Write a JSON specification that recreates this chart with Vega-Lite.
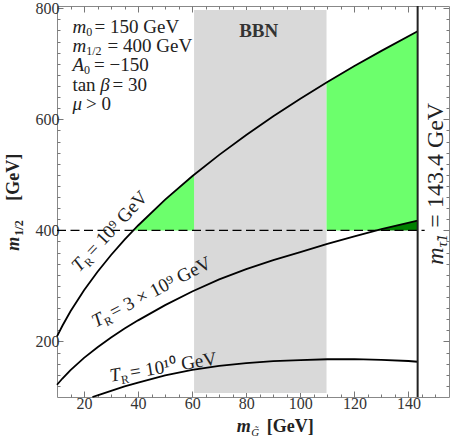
{
  "$schema": "https://vega.github.io/schema/vega-lite/v6.json",
  "width": 392,
  "height": 391,
  "autosize": {"type": "none"},
  "padding": {"left": 57, "top": 6, "right": 1, "bottom": 46},
  "background": "white",
  "config": {
    "view": {"stroke": "#888", "strokeWidth": 1},
    "text": {"font": "Liberation Serif", "color": "#222", "align": "left", "baseline": "alphabetic"}
  },
  "encoding": {
    "x": {"field": "x", "type": "quantitative", "scale": {"domain": [10, 155], "nice": false, "zero": false}, "axis": null},
    "y": {"field": "y", "type": "quantitative", "scale": {"domain": [100, 804], "nice": false, "zero": false}, "axis": null}
  },
  "resolve": {"axis": {"x": "independent", "y": "independent"}},
  "layer": [
    {
      "data": {"values": [{"x": 60.7, "x2": 109.7, "y": 107, "y2": 797}]},
      "mark": {"type": "rect", "color": "#d9d9d9"},
      "encoding": {
        "x": {"field": "x", "type": "quantitative", "scale": {"domain": [10, 155], "nice": false, "zero": false},
          "axis": {"orient": "bottom", "values": [15,20,25,30,35,40,45,50,55,60,65,70,75,80,85,90,95,100,105,110,115,120,125,130,135,140,145,150],
            "labelExpr": "datum.value % 20 === 0 ? datum.label : ''",
            "tickSize": {"condition": {"test": "datum.value % 20 === 0", "value": -6}, "value": -3},
            "tickColor": "#777", "domain": false, "grid": false, "title": null,
            "labelFont": "Liberation Serif", "labelFontSize": 16, "labelColor": "#333", "labelPadding": 4, "labelOverlap": false, "labelFlush": false}},
        "x2": {"field": "x2"},
        "y": {"field": "y", "type": "quantitative", "scale": {"domain": [100, 804], "nice": false, "zero": false},
          "axis": {"orient": "left", "values": [120,140,160,180,200,220,240,260,280,300,320,340,360,380,400,420,440,460,480,500,520,540,560,580,600,620,640,660,680,700,720,740,760,780,800],
            "labelExpr": "datum.value % 200 === 0 ? datum.label : ''",
            "tickSize": {"condition": {"test": "datum.value % 200 === 0", "value": -6}, "value": -3},
            "tickColor": "#777", "domain": false, "grid": false, "title": null,
            "labelFont": "Liberation Serif", "labelFontSize": 16, "labelColor": "#333", "labelPadding": 4, "labelOverlap": false, "labelFlush": false}},
        "y2": {"field": "y2"}
      }
    },
    {
      "data": {"values": [
        {"part": "a", "x": 38.1, "y": 400, "y2": 400},
        {"part": "a", "x": 40, "y": 408.8, "y2": 400},
        {"part": "a", "x": 45, "y": 432.8, "y2": 400},
        {"part": "a", "x": 50, "y": 455.5, "y2": 400},
        {"part": "a", "x": 55, "y": 477, "y2": 400},
        {"part": "a", "x": 60.7, "y": 500.3, "y2": 400},
        {"part": "b", "x": 109.7, "y": 666.2, "y2": 400},
        {"part": "b", "x": 120, "y": 695.8, "y2": 400},
        {"part": "b", "x": 128.2, "y": 718.4, "y2": 400},
        {"part": "b", "x": 130, "y": 723.2, "y2": 402.1},
        {"part": "b", "x": 140, "y": 749.7, "y2": 413.6},
        {"part": "b", "x": 143.4, "y": 758.5, "y2": 417.5}
      ]},
      "mark": {"type": "area", "color": "#6cff6c", "opacity": 1},
      "encoding": {"y2": {"field": "y2"}, "detail": {"field": "part"}}
    },
    {
      "data": {"values": [
        {"x": 128.2, "y": 400, "y2": 400},
        {"x": 130, "y": 402.1, "y2": 400},
        {"x": 140, "y": 413.6, "y2": 400},
        {"x": 143.4, "y": 417.5, "y2": 400}
      ]},
      "mark": {"type": "area", "color": "#008000", "opacity": 1},
      "encoding": {"y2": {"field": "y2"}}
    },
    {
      "data": {"values": [{"x": 10, "x2": 146, "y": 400}]},
      "mark": {"type": "rule", "color": "#000", "strokeWidth": 1.4, "strokeDash": [9, 4.5]},
      "encoding": {"x2": {"field": "x2"}}
    },
    {
      "data": {"values": [
        {"T": "1e9", "x": 10, "y": 209}, {"T": "1e9", "x": 12, "y": 228.3}, {"T": "1e9", "x": 15, "y": 254.3},
        {"T": "1e9", "x": 20, "y": 292.3}, {"T": "1e9", "x": 25, "y": 325.6}, {"T": "1e9", "x": 30, "y": 355.7},
        {"T": "1e9", "x": 35, "y": 383.2}, {"T": "1e9", "x": 40, "y": 408.8}, {"T": "1e9", "x": 50, "y": 455.5},
        {"T": "1e9", "x": 60, "y": 497.5}, {"T": "1e9", "x": 70, "y": 536}, {"T": "1e9", "x": 80, "y": 571.8},
        {"T": "1e9", "x": 90, "y": 605.4}, {"T": "1e9", "x": 100, "y": 637}, {"T": "1e9", "x": 110, "y": 667.1},
        {"T": "1e9", "x": 120, "y": 695.8}, {"T": "1e9", "x": 130, "y": 723.2}, {"T": "1e9", "x": 143.4, "y": 758.5},
        {"T": "3e9", "x": 10, "y": 122}, {"T": "3e9", "x": 12, "y": 133.3}, {"T": "3e9", "x": 15, "y": 148.5},
        {"T": "3e9", "x": 20, "y": 170.5}, {"T": "3e9", "x": 25, "y": 189.7}, {"T": "3e9", "x": 30, "y": 207.2},
        {"T": "3e9", "x": 35, "y": 223.2}, {"T": "3e9", "x": 40, "y": 238}, {"T": "3e9", "x": 50, "y": 265.4},
        {"T": "3e9", "x": 60, "y": 289.9}, {"T": "3e9", "x": 70, "y": 311.7}, {"T": "3e9", "x": 80, "y": 330.3},
        {"T": "3e9", "x": 90, "y": 346.4}, {"T": "3e9", "x": 100, "y": 360.9}, {"T": "3e9", "x": 110, "y": 375.6},
        {"T": "3e9", "x": 120, "y": 389.3}, {"T": "3e9", "x": 130, "y": 402.1}, {"T": "3e9", "x": 143.4, "y": 417.5},
        {"T": "1e10", "x": 23.1, "y": 100}, {"T": "1e10", "x": 25, "y": 103}, {"T": "1e10", "x": 30, "y": 111},
        {"T": "1e10", "x": 35, "y": 119}, {"T": "1e10", "x": 40, "y": 126}, {"T": "1e10", "x": 50, "y": 139},
        {"T": "1e10", "x": 60, "y": 149}, {"T": "1e10", "x": 70, "y": 156}, {"T": "1e10", "x": 80, "y": 161},
        {"T": "1e10", "x": 90, "y": 164.5}, {"T": "1e10", "x": 100, "y": 166.5}, {"T": "1e10", "x": 110, "y": 168},
        {"T": "1e10", "x": 120, "y": 168.3}, {"T": "1e10", "x": 130, "y": 167}, {"T": "1e10", "x": 140, "y": 164.8},
        {"T": "1e10", "x": 143.4, "y": 163.5}
      ]},
      "mark": {"type": "line", "color": "#000", "strokeWidth": 1.8},
      "encoding": {"detail": {"field": "T"}}
    },
    {
      "data": {"values": [{"x": 143.4, "y": 100, "y2": 804}]},
      "mark": {"type": "rule", "color": "#222", "strokeWidth": 2},
      "encoding": {
        "x": {"field": "x", "type": "quantitative", "scale": {"domain": [10, 155], "nice": false, "zero": false},
          "axis": {"orient": "top", "values": [15,20,25,30,35,40,45,50,55,60,65,70,75,80,85,90,95,100,105,110,115,120,125,130,135,140,145,150],
            "labels": false, "tickSize": {"condition": {"test": "datum.value % 20 === 0", "value": -6}, "value": -3},
            "tickColor": "#777", "domain": false, "grid": false, "title": null}},
        "y": {"field": "y", "type": "quantitative", "scale": {"domain": [100, 804], "nice": false, "zero": false},
          "axis": {"orient": "right", "values": [120,140,160,180,200,220,240,260,280,300,320,340,360,380,400,420,440,460,480,500,520,540,560,580,600,620,640,660,680,700,720,740,760,780,800],
            "labels": false, "tickSize": {"condition": {"test": "datum.value % 200 === 0", "value": -6}, "value": -3},
            "tickColor": "#777", "domain": false, "grid": false, "title": null}},
        "y2": {"field": "y2"}
      }
    },
    {
      "data": {"values": [
        {"t": "m", "x": 15.7, "y": 755.4}, {"t": "m", "x": 15.7, "y": 721.2}, {"t": "A", "x": 15.7, "y": 687},
        {"t": "β", "x": 26.0, "y": 651.8}, {"t": "μ", "x": 15.7, "y": 617.6}
      ]},
      "mark": {"type": "text", "fontSize": 19, "fontStyle": "italic"},
      "encoding": {"text": {"field": "t"}}
    },
    {
      "data": {"values": [
        {"t": "0", "x": 20.8, "y": 755.4}, {"t": "1/2", "x": 20.8, "y": 721.2}, {"t": "0", "x": 20.0, "y": 687}
      ]},
      "mark": {"type": "text", "fontSize": 12, "dy": 3.5},
      "encoding": {"text": {"field": "t"}}
    },
    {
      "data": {"values": [
        {"t": "= 150 GeV", "x": 23.9, "y": 755.4}, {"t": "= 400 GeV", "x": 28.7, "y": 721.2},
        {"t": "= −150", "x": 23.7, "y": 687}, {"t": "tan", "x": 15.7, "y": 651.8},
        {"t": "= 30", "x": 30.5, "y": 651.8}, {"t": "> 0", "x": 20.7, "y": 617.6}
      ]},
      "mark": {"type": "text", "fontSize": 19},
      "encoding": {"text": {"field": "t"}}
    },
    {
      "data": {"values": [{"t": "BBN", "x": 84.6, "y": 749}]},
      "mark": {"type": "text", "fontSize": 19, "fontWeight": "bold", "align": "center", "color": "#333"},
      "encoding": {"text": {"field": "t"}}
    },
    {
      "data": {"values": [{"t": "T", "x": 18.2, "y": 323.9}]},
      "mark": {"type": "text", "fontSize": 19, "fontStyle": "italic", "angle": 313},
      "encoding": {"text": {"field": "t"}}
    },
    {
      "data": {"values": [{"t": "R", "x": 18.2, "y": 323.9}]},
      "mark": {"type": "text", "fontSize": 12, "angle": 313, "dx": 10.5, "dy": 4},
      "encoding": {"text": {"field": "t"}}
    },
    {
      "data": {"values": [{"t": "= 10⁹ GeV", "x": 18.2, "y": 323.9}]},
      "mark": {"type": "text", "fontSize": 19, "angle": 313, "dx": 20.5},
      "encoding": {"text": {"field": "t"}}
    },
    {
      "data": {"values": [{"t": "T", "x": 24.3, "y": 224.7}]},
      "mark": {"type": "text", "fontSize": 19, "fontStyle": "italic", "angle": 332.5},
      "encoding": {"text": {"field": "t"}}
    },
    {
      "data": {"values": [{"t": "R", "x": 24.3, "y": 224.7}]},
      "mark": {"type": "text", "fontSize": 12, "angle": 332.5, "dx": 10.5, "dy": 4},
      "encoding": {"text": {"field": "t"}}
    },
    {
      "data": {"values": [{"t": "= 3 × 10⁹ GeV", "x": 24.3, "y": 224.7}]},
      "mark": {"type": "text", "fontSize": 19, "angle": 332.5, "dx": 20.5},
      "encoding": {"text": {"field": "t"}}
    },
    {
      "data": {"values": [{"t": "T", "x": 29.9, "y": 127.5}]},
      "mark": {"type": "text", "fontSize": 19, "fontStyle": "italic", "angle": 350.7},
      "encoding": {"text": {"field": "t"}}
    },
    {
      "data": {"values": [{"t": "R", "x": 29.9, "y": 127.5}]},
      "mark": {"type": "text", "fontSize": 12, "angle": 350.7, "dx": 10.5, "dy": 4},
      "encoding": {"text": {"field": "t"}}
    },
    {
      "data": {"values": [{"t": "= 10¹⁰ GeV", "x": 29.9, "y": 127.5}]},
      "mark": {"type": "text", "fontSize": 19, "angle": 350.7, "dx": 20.5},
      "encoding": {"text": {"field": "t"}}
    },
    {
      "data": {"values": [{"t": "m", "x": 143.4, "y": 338.3}]},
      "mark": {"type": "text", "fontSize": 24, "fontStyle": "italic", "angle": 270, "dy": 25},
      "encoding": {"text": {"field": "t"}}
    },
    {
      "data": {"values": [{"t": "τ̃1", "x": 143.4, "y": 338.3}]},
      "mark": {"type": "text", "fontSize": 15, "fontStyle": "italic", "angle": 270, "dx": 17.5, "dy": 29},
      "encoding": {"text": {"field": "t"}}
    },
    {
      "data": {"values": [{"t": "= 143.4 GeV", "x": 143.4, "y": 338.3}]},
      "mark": {"type": "text", "fontSize": 24, "angle": 270, "dx": 37, "dy": 25},
      "encoding": {"text": {"field": "t"}}
    },
    {
      "data": {"values": [{"t": "m", "x": 76.5, "y": 100}]},
      "mark": {"type": "text", "fontSize": 18, "fontStyle": "italic", "fontWeight": "bold", "dy": 35},
      "encoding": {"text": {"field": "t"}}
    },
    {
      "data": {"values": [{"t": "G̃", "x": 76.5, "y": 100}]},
      "mark": {"type": "text", "fontSize": 11, "fontStyle": "italic", "dx": 14.5, "dy": 39},
      "encoding": {"text": {"field": "t"}}
    },
    {
      "data": {"values": [{"t": "[GeV]", "x": 76.5, "y": 100}]},
      "mark": {"type": "text", "fontSize": 18, "fontWeight": "bold", "dx": 30, "dy": 35},
      "encoding": {"text": {"field": "t"}}
    },
    {
      "data": {"values": [{"t": "m", "x": 10, "y": 363.4}]},
      "mark": {"type": "text", "fontSize": 18, "fontStyle": "italic", "fontWeight": "bold", "angle": 270, "dy": -38},
      "encoding": {"text": {"field": "t"}}
    },
    {
      "data": {"values": [{"t": "1/2", "x": 10, "y": 363.4}]},
      "mark": {"type": "text", "fontSize": 12, "fontWeight": "bold", "angle": 270, "dx": 15, "dy": -34},
      "encoding": {"text": {"field": "t"}}
    },
    {
      "data": {"values": [{"t": "[GeV]", "x": 10, "y": 363.4}]},
      "mark": {"type": "text", "fontSize": 18, "fontWeight": "bold", "angle": 270, "dx": 50, "dy": -38},
      "encoding": {"text": {"field": "t"}}
    }
  ]
}
